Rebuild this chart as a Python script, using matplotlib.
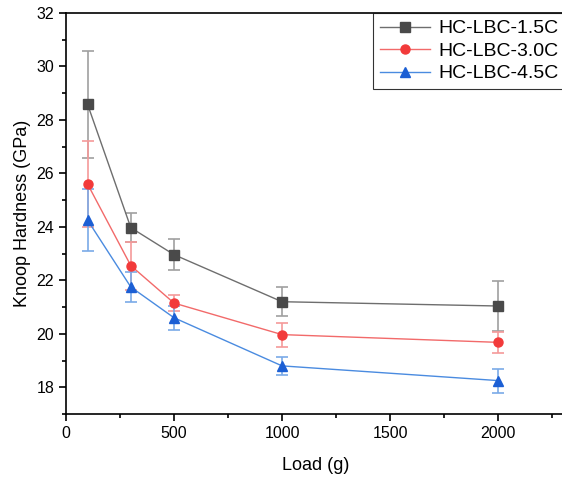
import matplotlib.pyplot as plt
from matplotlib.ticker import MultipleLocator

plt.rcParams['font.family'] = ['Liberation Sans', 'DejaVu Sans']

# Data
load = [100, 300, 500, 1000, 2000]
hc15 = [28.58, 23.97, 22.96, 21.20, 21.04]
hc15_err = [2.0, 0.55, 0.57, 0.55, 0.92]
hc30 = [25.60, 22.55, 21.15, 19.97, 19.68]
hc30_err = [1.6, 0.9, 0.3, 0.45, 0.4]
hc45 = [24.25, 21.75, 20.60, 18.80, 18.25]
hc45_err = [1.15, 0.55, 0.45, 0.35, 0.45]

series = [
    ('HC-LBC-1.5C', hc15, hc15_err, 's', '#4a4a4a', '#6e6e6e', '#a0a0a0'),
    ('HC-LBC-3.0C', hc30, hc30_err, 'o', '#f23a3a', '#f26a6a', '#f59a9a'),
    ('HC-LBC-4.5C', hc45, hc45_err, '^', '#1c5fd4', '#4a8be0', '#7aaae8'),
]

fig = plt.figure(figsize=(5.62, 4.79), dpi=100)
ax = fig.add_axes([66 / 562, 65 / 479, 499 / 562, 401 / 479])

for name, y, err, mk, mc, lc, ec in series:
    ax.errorbar(load, y, yerr=err, fmt='none', ecolor=ec, elinewidth=1.2,
                capsize=4, capthick=1.2, zorder=1)
    ax.plot(load, y, color=lc, lw=1, marker=mk, ms=6.5, mfc=mc, mec=mc,
            label=name, zorder=2)

ax.set_xlim(0, 2310)
ax.set_ylim(17, 32)
ax.xaxis.set_major_locator(MultipleLocator(500))
ax.xaxis.set_minor_locator(MultipleLocator(250))
ax.yaxis.set_major_locator(MultipleLocator(2))
ax.yaxis.set_minor_locator(MultipleLocator(1))
ax.tick_params(which='major', direction='out', length=5, width=1.2, labelsize=11.5)
ax.tick_params(which='minor', direction='out', length=3, width=1.2)
for s in ax.spines.values():
    s.set_linewidth(1.2)

ax.set_xlabel('Load (g)', fontsize=13, labelpad=12)
ax.set_ylabel('Knoop Hardness (GPa)', fontsize=13, labelpad=4)

leg = ax.legend(loc='upper right', fontsize=14, frameon=True, fancybox=False,
                edgecolor='black', borderaxespad=0, handlelength=2.6,
                handletextpad=0.4, labelspacing=0.25, borderpad=0.35)
leg.get_frame().set_linewidth(0.8)

plt.savefig('out.png', dpi=100)
